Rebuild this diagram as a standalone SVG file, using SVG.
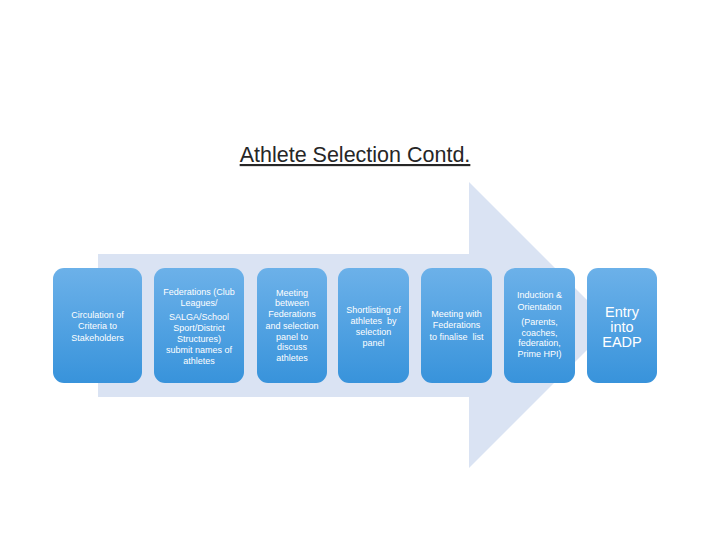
<svg xmlns="http://www.w3.org/2000/svg" width="720" height="540" viewBox="0 0 720 540">
<defs>
<linearGradient id="g" x1="0" y1="0" x2="0" y2="1">
<stop offset="0" stop-color="#6cb1e9"/>
<stop offset="1" stop-color="#3893db"/>
</linearGradient>
<style>
.box{fill:url(#g);}
.t{font-family:"Liberation Sans",Arial,sans-serif;font-size:9px;fill:#ffffff;text-anchor:middle;}
.big{font-size:14.5px;}
.title{font-family:"Liberation Sans",Arial,sans-serif;font-size:21.5px;fill:#262626;text-anchor:middle;text-decoration:underline;}
</style>
</defs>
<rect width="720" height="540" fill="#ffffff"/>
<text class="title" x="355" y="162">Athlete Selection Contd.</text>
<g id="arrow">
<polygon points="98,254 469,254 469,182 612,325 469,468 469,397 98,397" fill="#dae3f3"/>
</g>
<g id="connectors"></g>
<g id="n1">
<rect class="box" x="53" y="268" width="89" height="115" rx="11"/>
<text class="t" x="97.5" y="318">Circulation of</text>
<text class="t" x="97.5" y="329">Criteria to</text>
<text class="t" x="97.5" y="341">Stakeholders</text>
</g>
<g id="n2">
<rect class="box" x="154" y="268" width="90" height="115" rx="11"/>
<text class="t" x="199" y="295">Federations (Club</text>
<text class="t" x="199" y="306">Leagues/</text>
<text class="t" x="199" y="320">SALGA/School</text>
<text class="t" x="199" y="331">Sport/District</text>
<text class="t" x="199" y="342">Structures)</text>
<text class="t" x="199" y="353">submit names of</text>
<text class="t" x="199" y="364">athletes</text>
</g>
<g id="n3">
<rect class="box" x="257" y="268" width="70" height="115" rx="11"/>
<text class="t" x="292" y="296">Meeting</text>
<text class="t" x="292" y="306">between</text>
<text class="t" x="292" y="317">Federations</text>
<text class="t" x="292" y="329">and selection</text>
<text class="t" x="292" y="340">panel to</text>
<text class="t" x="292" y="350">discuss</text>
<text class="t" x="292" y="361">athletes</text>
</g>
<g id="n4">
<rect class="box" x="338" y="268" width="71" height="115" rx="11"/>
<text class="t" x="373.5" y="313">Shortlisting of</text>
<text class="t" x="373.5" y="324" xml:space="preserve">athletes  by</text>
<text class="t" x="373.5" y="335">selection</text>
<text class="t" x="373.5" y="346">panel</text>
</g>
<g id="n5">
<rect class="box" x="421" y="268" width="71" height="115" rx="11"/>
<text class="t" x="456.5" y="317">Meeting with</text>
<text class="t" x="456.5" y="328">Federations</text>
<text class="t" x="456.5" y="340" xml:space="preserve">to finalise  list</text>
</g>
<g id="n6">
<rect class="box" x="504" y="268" width="71" height="115" rx="11"/>
<text class="t" x="539.5" y="298">Induction &amp;</text>
<text class="t" x="539.5" y="310">Orientation</text>
<text class="t" x="539.5" y="325">(Parents,</text>
<text class="t" x="539.5" y="336">coaches,</text>
<text class="t" x="539.5" y="346">federation,</text>
<text class="t" x="539.5" y="357">Prime HPI)</text>
</g>
<g id="n7">
<rect class="box" x="587" y="268" width="70" height="115" rx="11"/>
<text class="t big" x="622" y="317">Entry</text>
<text class="t big" x="622" y="332">into</text>
<text class="t big" x="622" y="347">EADP</text>
</g>
</svg>
